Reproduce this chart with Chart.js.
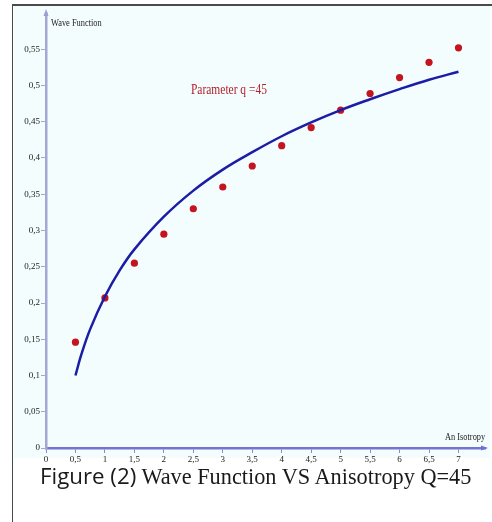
<!DOCTYPE html>
<html><head><meta charset="utf-8">
<script src="https://cdn.jsdelivr.net/npm/chart.js@4/dist/chart.umd.min.js"></script>
<style>
html,body{margin:0;padding:0;background:#fff;}
#wrap{position:relative;width:492px;height:522px;overflow:hidden;}
#frame{position:absolute;left:12px;top:4px;width:490px;height:530px;border-left:1.5px solid #4a4a4a;border-top:2px solid #4a4a4a;}
#bg{position:absolute;left:14px;top:6px;width:476px;height:452px;background:#f3fdfd;}
#c{position:absolute;left:0;top:0;}
#cap{position:absolute;left:40px;top:462px;font-size:22.3px;line-height:27px;white-space:nowrap;color:#1a1a1a;}
#cap .s{font-family:"Open Sans","Liberation Sans",sans-serif;}
#cap .r{font-family:"Liberation Serif","DejaVu Serif",serif;}
</style></head>
<body>
<div id="wrap">
<div id="frame"></div>
<div id="bg"></div>
<canvas id="c" width="492" height="522"></canvas>
<div id="cap"><span class="s">Figure (2)</span><span class="r"> Wave Function VS Anisotropy Q=45</span></div>
</div>
<script>
// Data
const pointX = [0.5, 1, 1.5, 2, 2.5, 3, 3.5, 4, 4.5, 5, 5.5, 6, 6.5, 7];
const pointY = [0.146, 0.207, 0.255, 0.295, 0.330, 0.360, 0.389, 0.417, 0.442, 0.466, 0.489, 0.511, 0.532, 0.552];
const curveX = [0.5, 0.6, 0.75, 1, 1.25, 1.5, 2, 2.5, 3, 3.5, 4, 4.5, 5, 5.5, 6, 6.5, 7];
const curveY = [0.100, 0.129, 0.164, 0.209, 0.245, 0.274, 0.319, 0.355, 0.384, 0.408, 0.430, 0.449, 0.466, 0.481, 0.495, 0.508, 0.519];
const xTickValues = [0, 0.5, 1, 1.5, 2, 2.5, 3, 3.5, 4, 4.5, 5, 5.5, 6, 6.5, 7];
const yTickValues = [0, 0.05, 0.1, 0.15, 0.2, 0.25, 0.3, 0.35, 0.4, 0.45, 0.5, 0.55];
const yAxisTitle = "Wave Function";
const xAxisTitle = "An Isotropy";
const noteText = "Parameter q =45";
const noteX = 2.46, noteY = 0.495;

const fmt = v => String(Math.round(v * 100) / 100).replace('.', ',');

const extras = {
  id: 'extras',
  afterDraw(chart) {
    const ctx = chart.ctx, xs = chart.scales.x, ys = chart.scales.y;
    const L = xs.left, B = ys.bottom, T = ys.top, R = xs.right;
    ctx.save();
    ctx.fillStyle = '#9a9fd2';
    ctx.beginPath(); ctx.moveTo(L, T - 4); ctx.lineTo(L - 2.5, T + 3); ctx.lineTo(L + 2.5, T + 3); ctx.closePath(); ctx.fill();
    ctx.fillStyle = '#6f6fd0';
    ctx.beginPath(); ctx.moveTo(R + 3, B); ctx.lineTo(R - 4, B - 2.5); ctx.lineTo(R - 4, B + 2.5); ctx.closePath(); ctx.fill();
    const drawNarrow = (txt, x, y, font, color, sx) => {
      ctx.save(); ctx.translate(x, y); ctx.scale(sx, 1);
      ctx.font = font; ctx.fillStyle = color; ctx.textAlign = 'left'; ctx.textBaseline = 'alphabetic';
      ctx.fillText(txt, 0, 0); ctx.restore();
    };
    drawNarrow(yAxisTitle, L + 5, T + 13, '9.5px "Liberation Serif"', '#222', 0.88);
    drawNarrow(xAxisTitle, R - 40, B - 8, '9.5px "Liberation Serif"', '#222', 0.88);
    drawNarrow(noteText, xs.getPixelForValue(noteX), ys.getPixelForValue(noteY) + 5, '14px "Liberation Serif"', '#b3202e', 0.82);
    ctx.restore();
  }
};

new Chart(document.getElementById('c'), {
  type: 'scatter',
  data: {
    datasets: [
      {
        data: curveX.map((x, i) => ({x, y: curveY[i]})),
        showLine: true, borderColor: '#1c1ca6', borderWidth: 2.5,
        pointRadius: 0, tension: 0.4, fill: false
      },
      {
        data: pointX.map((x, i) => ({x, y: pointY[i]})),
        showLine: false, pointRadius: 3.6, pointBackgroundColor: '#c3141f',
        pointBorderColor: '#c3141f', pointBorderWidth: 0
      }
    ]
  },
  options: {
    responsive: false, animation: false,
    layout: { padding: { top: 13, right: 7, left: 0, bottom: 0 } },
    plugins: { legend: { display: false }, tooltip: { enabled: false } },
    scales: {
      x: {
        type: 'linear', min: 0, max: 7.45,
        afterBuildTicks: s => { s.ticks = xTickValues.map(v => ({ value: v })); },
        afterFit: s => { s.height = 74; },
        border: { color: '#7474d2', width: 2.5 },
        grid: { drawOnChartArea: false, drawTicks: true, tickLength: 5, color: '#8a8ac8' },
        ticks: { autoSkip: false, maxRotation: 0, padding: 1, color: '#222',
          font: { family: 'Liberation Serif', size: 9 }, callback: v => fmt(v) }
      },
      y: {
        type: 'linear', min: 0, max: 0.6,
        afterBuildTicks: s => { s.ticks = yTickValues.map(v => ({ value: v })); },
        afterFit: s => { s.width = 46; },
        border: { color: '#a4a8d4', width: 2.5 },
        grid: { drawOnChartArea: false, drawTicks: true, tickLength: 5, color: '#a4a8d4' },
        ticks: { autoSkip: false, padding: 1, color: '#222',
          font: { family: 'Liberation Serif', size: 9 }, callback: v => fmt(v) }
      }
    }
  },
  plugins: [extras]
});
</script>
</body></html>
